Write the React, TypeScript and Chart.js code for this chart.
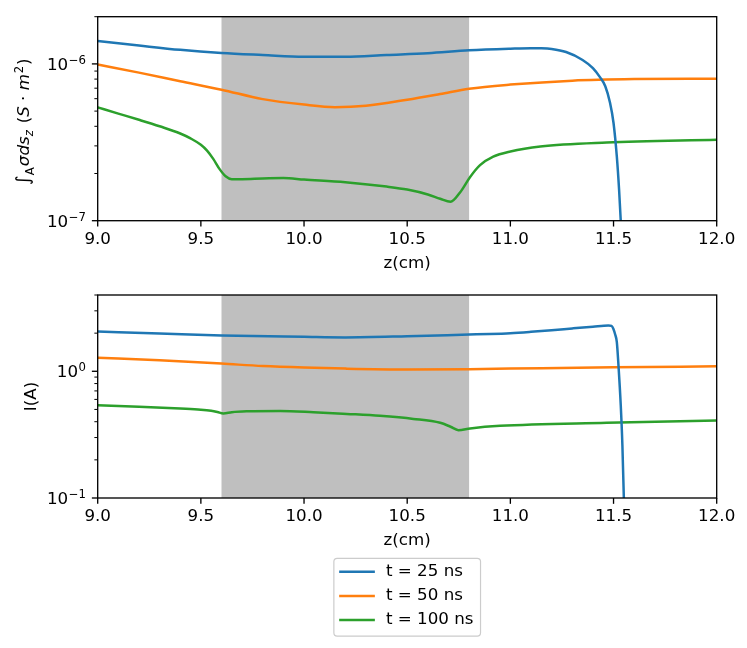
import { useEffect, useRef } from "react";
import { Chart, registerables } from "chart.js";

Chart.register(...registerables);

// ---------------- data ----------------
const seriesLabels = ["t = 25 ns", "t = 50 ns", "t = 100 ns"];
const seriesColors = ["#1f77b4", "#ff7f0e", "#2ca02c"];

// top panel: integral of sigma ds_z (S·m^2)
const zSigma25 = [9.0, 9.2, 9.4, 9.6, 9.8, 10.0, 10.2, 10.4, 10.6, 10.8, 11.0, 11.1, 11.15, 11.2, 11.27, 11.35, 11.4, 11.435, 11.46, 11.483, 11.5, 11.516, 11.527, 11.535, 11.545];
const sigma25 = [1.40e-6, 1.31e-6, 1.23e-6, 1.175e-6, 1.14e-6, 1.11e-6, 1.11e-6, 1.14e-6, 1.17e-6, 1.22e-6, 1.25e-6, 1.26e-6, 1.258e-6, 1.245e-6, 1.19e-6, 1.06e-6, 0.94e-6, 0.82e-6, 0.72e-6, 0.565e-6, 0.42e-6, 0.256e-6, 0.157e-6, 0.1e-6, 0.05e-6];

const zSigma50 = [9.0, 9.2, 9.4, 9.6, 9.8, 10.0, 10.15, 10.3, 10.5, 10.66, 10.8, 11.0, 11.3, 11.6, 12.0];
const sigma50 = [0.99e-6, 0.88e-6, 0.776e-6, 0.685e-6, 0.596e-6, 0.55e-6, 0.53e-6, 0.541e-6, 0.591e-6, 0.643e-6, 0.695e-6, 0.738e-6, 0.782e-6, 0.80e-6, 0.805e-6];

const zSigma100 = [9.0, 9.1, 9.2, 9.3, 9.4, 9.45, 9.5, 9.53, 9.56, 9.59, 9.62, 9.65, 9.7, 9.8, 9.9, 10.0, 10.2, 10.4, 10.5, 10.6, 10.66, 10.71, 10.757, 10.805, 10.853, 10.917, 11.0, 11.145, 11.467, 12.0];
const sigma100 = [0.528e-6, 0.482e-6, 0.44e-6, 0.40e-6, 0.36e-6, 0.335e-6, 0.305e-6, 0.28e-6, 0.248e-6, 0.214e-6, 0.192e-6, 0.184e-6, 0.184e-6, 0.186e-6, 0.187e-6, 0.183e-6, 0.176e-6, 0.165e-6, 0.158e-6, 0.147e-6, 0.138e-6, 0.132e-6, 0.152e-6, 0.19e-6, 0.226e-6, 0.256e-6, 0.276e-6, 0.297e-6, 0.315e-6, 0.328e-6];

// bottom panel: current I (A)
const zCurrent25 = [9.0, 9.3, 9.6, 10.0, 10.2, 10.5, 10.8, 10.9, 11.0, 11.1, 11.2, 11.3, 11.4, 11.475, 11.49, 11.499, 11.508, 11.516, 11.524, 11.535, 11.543, 11.55, 11.556];
const current25 = [2.06, 1.99, 1.92, 1.87, 1.85, 1.89, 1.95, 1.97, 2.0, 2.05, 2.11, 2.18, 2.25, 2.30, 2.28, 2.17, 1.95, 1.70, 1.11, 0.54, 0.26, 0.1, 0.06];

const zCurrent50 = [9.0, 9.3, 9.6, 9.8, 10.0, 10.2, 10.5, 10.8, 11.0, 11.5, 12.0];
const current50 = [1.28, 1.22, 1.15, 1.10, 1.07, 1.05, 1.035, 1.04, 1.05, 1.075, 1.095];

const zCurrent100 = [9.0, 9.2, 9.4, 9.5, 9.55, 9.58, 9.609, 9.65, 9.722, 9.884, 10.045, 10.207, 10.368, 10.53, 10.66, 10.71, 10.748, 10.805, 10.95, 11.467, 12.0];
const current100 = [0.54, 0.525, 0.508, 0.498, 0.488, 0.477, 0.464, 0.476, 0.484, 0.487, 0.476, 0.461, 0.445, 0.421, 0.392, 0.365, 0.343, 0.354, 0.371, 0.392, 0.409];

const xMin = 9;
const xMax = 12;
const xStep = 0.5;
const spanStart = 9.6;
const spanEnd = 10.8;
const sigmaMin = 1e-7;
const sigmaMax = 2e-6;
const currentMin = 0.1;
const currentMax = 4;
const xTitle = "z(cm)";
const currentTitle = "I(A)";

// ---------------- style ----------------
const FAMILY = "DejaVu Sans";
const FS = 16.7;
const SFS = FS * 0.7;
const REG = `${FS}px "${FAMILY}"`;
const ITA = `italic ${FS}px "${FAMILY}"`;
const SREG = `${SFS}px "${FAMILY}"`;
const SITA = `italic ${SFS}px "${FAMILY}"`;
const BIG = `${FS * 1.1}px "${FAMILY}"`;
const SPAN_COLOR = "#bfbfbf";
const LINE_W = 2.5;
const SPINE_W = 1.33;
const MAJOR_LEN = 5.83;
const MINOR_LEN = 3.33;
const MAJOR_W = 1.33;
const MINOR_W = 1.0;
const Y_AXIS_W = 97.7;
const X_AXIS_H = 52.8;

type Seg = { t: string; font: string; dy?: number; dx?: number };

function segsWidth(ctx: CanvasRenderingContext2D, segs: Seg[]) {
  let w = 0;
  for (const s of segs) {
    ctx.font = s.font;
    w += (s.dx || 0) + ctx.measureText(s.t).width;
  }
  return w;
}

function drawSegs(ctx: CanvasRenderingContext2D, segs: Seg[], x0: number, y0: number) {
  let x = x0;
  for (const s of segs) {
    ctx.font = s.font;
    x += s.dx || 0;
    ctx.fillText(s.t, x, y0 + (s.dy || 0));
    x += ctx.measureText(s.t).width;
  }
}

function powerLabel(exp: number): Seg[] {
  const e = exp < 0 ? "\u2212" + Math.abs(exp) : String(exp);
  return [
    { t: "10", font: REG },
    { t: e, font: SREG, dy: -6, dx: 0.6 },
  ];
}

const sigmaTitle: Seg[] = [
  { t: "\u222B", font: BIG },
  { t: "A", font: SREG, dy: 5, dx: 0 },
  { t: "\u03C3ds", font: ITA, dx: 1.2 },
  { t: "z", font: SITA, dy: 3.5, dx: 0 },
  { t: " (", font: REG, dx: 1.5 },
  { t: "S", font: ITA },
  { t: " \u00B7 ", font: REG },
  { t: "m", font: ITA },
  { t: "2", font: SREG, dy: -6.5, dx: 0.8 },
  { t: ")", font: REG, dx: 0.8 },
];

function line(ctx: CanvasRenderingContext2D, x0: number, y0: number, x1: number, y1: number) {
  ctx.beginPath();
  ctx.moveTo(x0, y0);
  ctx.lineTo(x1, y1);
  ctx.stroke();
}

function makeMplPlugin(cfg: { yTitle?: Seg[]; legend?: boolean }) {
  return {
    id: "mplStyle",
    beforeDatasetsDraw(chart: any) {
      const { ctx, chartArea: a } = chart;
      const xs = chart.scales.x;
      const p0 = xs.getPixelForValue(spanStart);
      const p1 = xs.getPixelForValue(spanEnd);
      ctx.save();
      ctx.fillStyle = SPAN_COLOR;
      ctx.fillRect(p0, a.top, p1 - p0, a.bottom - a.top);
      ctx.restore();
    },
    afterDatasetsDraw(chart: any) {
      const { ctx, chartArea: a } = chart;
      const xs = chart.scales.x;
      const ys = chart.scales.y;
      ctx.save();
      ctx.strokeStyle = "#000";
      ctx.fillStyle = "#000";
      ctx.lineCap = "butt";

      // x ticks
      ctx.lineWidth = MAJOR_W;
      for (const t of xs.ticks) {
        const px = xs.getPixelForValue(t.value);
        line(ctx, px, a.bottom, px, a.bottom + MAJOR_LEN);
      }

      // y ticks (log decades) and labels
      const e0 = Math.floor(Math.log10(ys.min) + 1e-9);
      const e1 = Math.ceil(Math.log10(ys.max) - 1e-9);
      ctx.textBaseline = "alphabetic";
      ctx.textAlign = "left";
      for (let e = e0; e <= e1; e++) {
        for (let k = 1; k <= 9; k++) {
          const v = k * Math.pow(10, e);
          if (v < ys.min * (1 - 1e-9) || v > ys.max * (1 + 1e-9)) continue;
          const py = ys.getPixelForValue(v);
          if (k === 1) {
            ctx.lineWidth = MAJOR_W;
            line(ctx, a.left - MAJOR_LEN, py, a.left, py);
            const segs = powerLabel(e);
            const w = segsWidth(ctx, segs);
            drawSegs(ctx, segs, a.left - MAJOR_LEN - 5.83 - w, py + 6.1);
          } else {
            ctx.lineWidth = MINOR_W;
            line(ctx, a.left - MINOR_LEN, py, a.left, py);
          }
        }
      }

      // spines
      ctx.lineWidth = SPINE_W;
      ctx.strokeRect(a.left, a.top, a.right - a.left, a.bottom - a.top);

      // custom y title (math text)
      if (cfg.yTitle) {
        const w = segsWidth(ctx, cfg.yTitle);
        const cy = (a.top + a.bottom) / 2 + 3;
        ctx.save();
        ctx.translate(29, cy);
        ctx.rotate(-Math.PI / 2);
        ctx.textBaseline = "alphabetic";
        drawSegs(ctx, cfg.yTitle, -w / 2, 0);
        ctx.restore();
      }

      // legend
      if (cfg.legend) {
        const ds = chart.data.datasets;
        ctx.font = REG;
        let maxW = 0;
        for (const d of ds) maxW = Math.max(maxW, ctx.measureText(d.label).width);
        const padL = 5.3, handle = 35.7, gap = 11.1, padR = 7;
        const width = padL + handle + gap + maxW + padR;
        const cx = (a.left + a.right) / 2;
        const left = cx - width / 2;
        const row0 = a.bottom + 73.7;
        const rowStep = 24.2;
        const top = row0 - 13.4;
        const bottom = row0 + rowStep * (ds.length - 1) + 16;
        ctx.beginPath();
        ctx.roundRect(left, top, width, bottom - top, 3.3);
        ctx.fillStyle = "rgba(255,255,255,0.8)";
        ctx.fill();
        ctx.strokeStyle = "#cccccc";
        ctx.lineWidth = 1.2;
        ctx.stroke();
        ds.forEach((d: any, i: number) => {
          const y = row0 + i * rowStep;
          ctx.strokeStyle = d.borderColor;
          ctx.lineWidth = LINE_W;
          line(ctx, left + padL, y, left + padL + handle, y);
          ctx.fillStyle = "#000";
          ctx.font = REG;
          ctx.textBaseline = "middle";
          ctx.fillText(d.label, left + padL + handle + gap, y);
        });
      }
      ctx.restore();
    },
  };
}

function toPoints(xs: number[], ys: number[]) {
  return xs.map((x, i) => ({ x, y: ys[i] }));
}

function dataset(i: number, xs: number[], ys: number[]) {
  return {
    label: seriesLabels[i],
    data: toPoints(xs, ys),
    borderColor: seriesColors[i],
    backgroundColor: seriesColors[i],
    borderWidth: LINE_W,
    pointRadius: 0,
    pointHoverRadius: 0,
    cubicInterpolationMode: "monotone",
    fill: false,
    clip: 0,
  };
}

function makeOptions(yMin: number, yMax: number, padding: any, yTitleText: string | null) {
  return {
    responsive: false,
    animation: false,
    events: [],
    layout: { padding },
    plugins: { legend: { display: false }, tooltip: { enabled: false } },
    scales: {
      x: {
        type: "linear",
        min: xMin,
        max: xMax,
        grid: { display: false, drawTicks: false, tickLength: 0 },
        border: { display: false },
        ticks: {
          stepSize: xStep,
          autoSkip: false,
          maxRotation: 0,
          padding: 8.8,
          color: "#000",
          font: { family: FAMILY, size: FS },
          callback: (v: any) => Number(v).toFixed(1),
        },
        title: {
          display: true,
          text: xTitle,
          color: "#000",
          font: { family: FAMILY, size: FS },
          padding: { top: 0, bottom: 0 },
        },
        afterFit: (s: any) => {
          s.height = X_AXIS_H;
        },
      },
      y: {
        type: "logarithmic",
        min: yMin,
        max: yMax,
        grid: { display: false, drawTicks: false, tickLength: 0 },
        border: { display: false },
        ticks: { display: false },
        title: yTitleText
          ? {
              display: true,
              text: yTitleText,
              color: "#000",
              font: { family: FAMILY, size: FS },
              padding: { top: 21.5, bottom: 0 },
            }
          : { display: false },
        afterFit: (s: any) => {
          s.width = Y_AXIS_W;
        },
      },
    },
  };
}

export default function App() {
  const topRef = useRef<HTMLCanvasElement>(null);
  const botRef = useRef<HTMLCanvasElement>(null);

  useEffect(() => {
    const c1 = new Chart(topRef.current as HTMLCanvasElement, {
      type: "line",
      data: {
        datasets: [
          dataset(0, zSigma25, sigma25),
          dataset(1, zSigma50, sigma50),
          dataset(2, zSigma100, sigma100),
        ] as any,
      },
      options: makeOptions(sigmaMin, sigmaMax, { left: 0, right: 30.3, top: 16.7, bottom: 6.5 }, null) as any,
      plugins: [makeMplPlugin({ yTitle: sigmaTitle }) as any],
    });
    const c2 = new Chart(botRef.current as HTMLCanvasElement, {
      type: "line",
      data: {
        datasets: [
          dataset(0, zCurrent25, current25),
          dataset(1, zCurrent50, current50),
          dataset(2, zCurrent100, current100),
        ] as any,
      },
      options: makeOptions(currentMin, currentMax, { left: 0, right: 30.3, top: 15, bottom: 97.2 }, currentTitle) as any,
      plugins: [makeMplPlugin({ legend: true }) as any],
    });
    return () => {
      c1.destroy();
      c2.destroy();
    };
  }, []);

  return (
    <div style={{ position: "absolute", left: 0, top: 0, width: 747, height: 648, background: "#fff" }}>
      <canvas
        ref={topRef}
        width={747}
        height={280}
        style={{ position: "absolute", left: 0, top: 0, width: 747, height: 280, display: "block" }}
      />
      <canvas
        ref={botRef}
        width={747}
        height={368}
        style={{ position: "absolute", left: 0, top: 280, width: 747, height: 368, display: "block" }}
      />
    </div>
  );
}
